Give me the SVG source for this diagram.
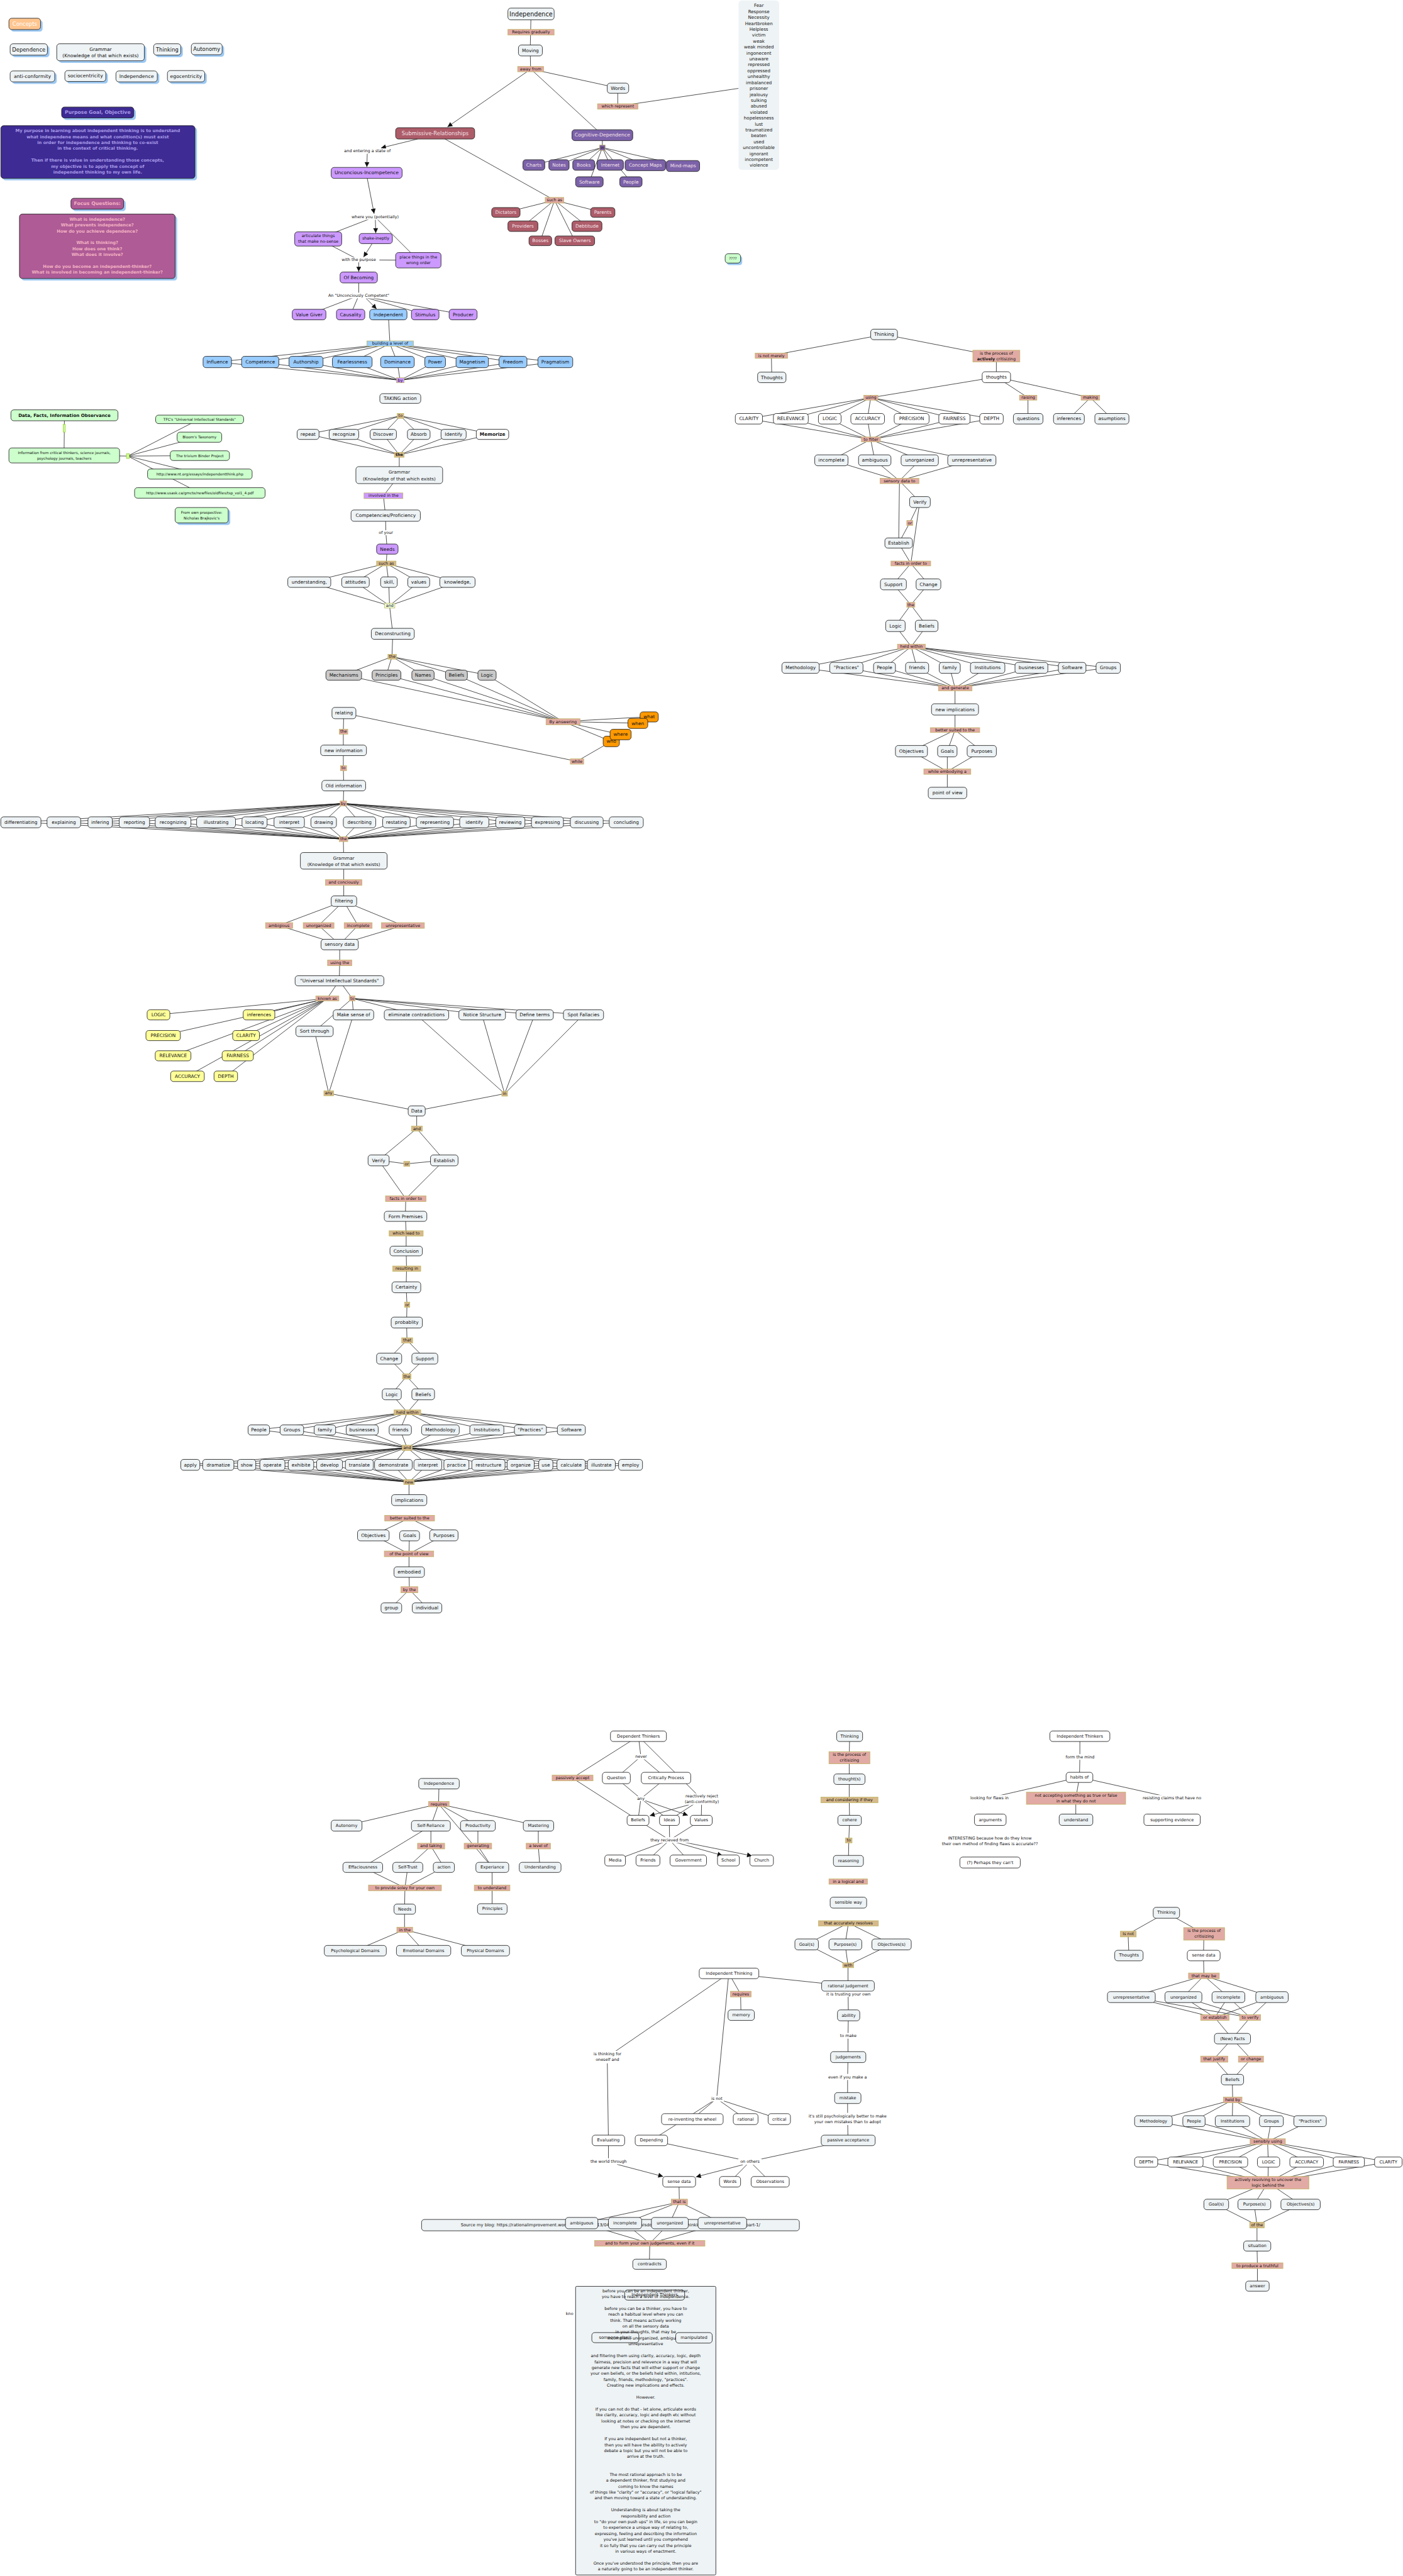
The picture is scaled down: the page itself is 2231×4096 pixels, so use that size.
<svg xmlns="http://www.w3.org/2000/svg" width="2231" height="4096" viewBox="0 0 2231 4096">
<style>
text{font-family:"DejaVu Sans",Verdana,sans-serif;font-size:11.5px;text-anchor:middle;dominant-baseline:central;fill:#111}
text.s{font-size:10px}
text.m{font-size:10.5px}
text.x{font-size:9px}
text.t13{font-size:13px}
text.t12{font-size:12px}
text.big{font-size:15px}
text.bd{font-weight:bold}
text.lt{fill:#F6E4EA}
text.lw{fill:#fff}
text.pp{font-weight:bold;font-size:10.5px;fill:#A89AE8}
text.fq{font-weight:bold;font-size:10.5px;fill:#F3B2C2}
text.tb{font-size:10px}
rect.b{fill:#EEF3F5;stroke:#1b1b1b;stroke-width:1.3;rx:7px;ry:7px}
rect.wt{fill:#fff}
rect.lp{fill:#CC99FF}
rect.bl{fill:#99CCFF}
rect.gy{fill:#C9C9C9}
rect.gr{fill:#CCFFCC}
rect.ye{fill:#FFFF99}
rect.or{fill:#FF9900}
rect.rd{fill:#AD5C69}
rect.pu{fill:#7C62A9}
rect.dp{fill:#3E2B94}
rect.fp{fill:#AE5B96}
rect.co{fill:#FFC58F}
rect.no{fill:none}
rect.sh{fill:#9CC8F2;stroke:none;rx:7px;ry:7px}
rect.k{fill:#E2AAA4;stroke:#BDB55C;stroke-width:1.2}
rect.tn{fill:#D7B98C}
rect.kb{fill:#99CCFF}
rect.kp{fill:#CC99FF}
rect.kg{fill:#EFFFE0}
rect.kpu{fill:#7C62A9}
rect.sg{fill:#CCFF99;stroke:#99CC33;stroke-width:1.2}
rect.pl{fill:#fff;stroke:none}
rect.lst{fill:#EEF3F5;stroke:none;rx:8px;ry:8px}
#connectors path{fill:none;stroke:#1a1a1a;stroke-width:1.2}
</style>
<defs>
<marker id="ah" viewBox="0 0 10 10" refX="10" refY="5" markerWidth="14" markerHeight="12" markerUnits="userSpaceOnUse" orient="auto"><path d="M0,0 L10,5 L0,10 z" fill="#111"/></marker>
</defs>
<rect x="0" y="0" width="2231" height="4096" fill="#fff"/>
<g transform="scale(0.64458)">

<g id="connectors">
<path d="M1310 35 L1308 124 L1309 170 L1486 333 M1309 170 L1524 217 L1524 262 L1822 218"/>
<path d="M1486 333 L1486 364 M1486 364 L1317 407 M1486 364 L1379 407 M1486 364 L1440 407 M1486 364 L1505 407 M1486 364 L1592 407 M1486 364 L1685 409 M1486 364 L1454 448 M1486 364 L1556 448"/>
<path d="M1073 329 L1368 494 M1368 494 L1248 524 M1368 494 L1487 524 M1368 494 L1290 558 M1368 494 L1448 558 M1368 494 L1333 594 M1368 494 L1418 594"/>
<path d="M1300 177 L1104 313" marker-end="url(#ah)"/>
<path d="M1030 343 L940 365" marker-end="url(#ah)"/>
<path d="M906 379 L905 412" marker-end="url(#ah)"/>
<path d="M906 440 L923 527" marker-end="url(#ah)"/>
<path d="M926 542 L927 575" marker-end="url(#ah)"/>
<path d="M918 601 L897 634" marker-end="url(#ah)"/>
<path d="M885 647 L885 670" marker-end="url(#ah)"/>
<path d="M903 736 L929 762" marker-end="url(#ah)"/>
<path d="M925 535 L785 589 M785 589 L885 641 M925 535 L1032 642 M1032 642 L885 641 M885 684 L885 729"/>
<path d="M885 729 L762 776 M885 729 L865 776 M885 729 L1049 776 M885 729 L1142 776 M958 776 L962 848"/>
<path d="M962 848 L536 893 M962 848 L642 893 M962 848 L755 893 M962 848 L869 893 M962 848 L980 893 M962 848 L1073 893 M962 848 L1165 893 M962 848 L1265 893 M962 848 L1370 893"/>
<path d="M987 938 L536 893 M987 938 L642 893 M987 938 L755 893 M987 938 L869 893 M987 938 L980 893 M987 938 L1073 893 M987 938 L1165 893 M987 938 L1265 893 M987 938 L1370 893"/>
<path d="M988 1026 L760 1071 M988 1026 L848 1071 M988 1026 L945 1071 M988 1026 L1033 1071 M988 1026 L1119 1071 M988 1026 L1215 1071"/>
<path d="M985 1122 L760 1071 M985 1122 L848 1071 M985 1122 L945 1071 M985 1122 L1033 1071 M985 1122 L1119 1071 M985 1122 L1215 1071"/>
<path d="M985 1122 L985 1172 L946 1223 L951 1272 L952 1314 L955 1354 L953 1390"/>
<path d="M953 1390 L763 1436 M953 1390 L877 1436 M953 1390 L959 1436 M953 1390 L1033 1436 M953 1390 L1128 1436"/>
<path d="M961 1494 L763 1436 M961 1494 L877 1436 M961 1494 L959 1436 M961 1494 L1033 1436 M961 1494 L1128 1436 M961 1494 L969 1563 L967 1620"/>
<path d="M967 1620 L848 1665 M967 1620 L953 1665 M967 1620 L1043 1665 M967 1620 L1126 1665 M967 1620 L1201 1665"/>
<path d="M1389 1780 L848 1665 M1389 1780 L953 1665 M1389 1780 L1043 1665 M1389 1780 L1126 1665 M1389 1780 L1201 1665 M1389 1780 L1601 1768 M1389 1780 L1573 1784 M1389 1780 L1531 1812 M1389 1780 L1508 1829 M1508 1829 L1423 1878 M848 1759 L1423 1878"/>
<path d="M848 1759 L847 1805 L847 1851 L847 1895 L848 1938 L847 1982"/>
<path d="M847 1982 L51 2028 M847 1982 L157 2028 M847 1982 L247 2028 M847 1982 L331 2028 M847 1982 L427 2028 M847 1982 L533 2028 M847 1982 L628 2028 M847 1982 L713 2028 M847 1982 L798 2028 M847 1982 L887 2028 M847 1982 L978 2028 M847 1982 L1073 2028 M847 1982 L1170 2028 M847 1982 L1259 2028 M847 1982 L1350 2028 M847 1982 L1447 2028 M847 1982 L1545 2028"/>
<path d="M847 2070 L51 2028 M847 2070 L157 2028 M847 2070 L247 2028 M847 2070 L331 2028 M847 2070 L427 2028 M847 2070 L533 2028 M847 2070 L628 2028 M847 2070 L713 2028 M847 2070 L798 2028 M847 2070 L887 2028 M847 2070 L978 2028 M847 2070 L1073 2028 M847 2070 L1170 2028 M847 2070 L1259 2028 M847 2070 L1350 2028 M847 2070 L1447 2028 M847 2070 L1545 2028"/>
<path d="M847 2070 L848 2123 L848 2177 L848 2223 M848 2223 L688 2283 L838 2330 M848 2223 L786 2283 L838 2330 M848 2223 L883 2283 L838 2330 M848 2223 L994 2283 L838 2330 M838 2330 L838 2375 L837 2419 M837 2419 L807 2463 M837 2419 L869 2463"/>
<path d="M807 2463 L391 2503 M807 2463 L639 2503 M807 2463 L402 2554 M807 2463 L607 2554 M807 2463 L427 2604 M807 2463 L586 2604 M807 2463 L462 2655 M807 2463 L557 2655"/>
<path d="M869 2463 L872 2503 M869 2463 L1027 2503 M869 2463 L1189 2503 M869 2463 L1319 2503 M869 2463 L1439 2503 M869 2463 L776 2544"/>
<path d="M776 2544 L811 2697 M872 2503 L811 2697 M811 2697 L1028 2740 M1027 2503 L1245 2698 M1189 2503 L1245 2698 M1319 2503 L1245 2698 M1439 2503 L1245 2698 M1245 2698 L1028 2740"/>
<path d="M1028 2740 L1028 2784 M1028 2784 L934 2862 M1028 2784 L1096 2862 M934 2862 L1003 2871 L1096 2862 M934 2862 L1001 2957 M1096 2862 L1001 2957"/>
<path d="M1001 2957 L1000 3000 L1002 3043 L1002 3086 L1003 3130 L1002 3175 L1004 3218 L1003 3262 L1004 3306 M1004 3306 L960 3351 L1003 3395 M1004 3306 L1048 3351 L1003 3395 M1003 3395 L966 3439 L1005 3484 M1003 3395 L1044 3439 L1005 3484"/>
<path d="M1005 3484 L638 3527 M1005 3484 L720 3527 M1005 3484 L801 3527 M1005 3484 L893 3527 M1005 3484 L987 3527 M1005 3484 L1086 3527 M1005 3484 L1201 3527 M1005 3484 L1308 3527 M1005 3484 L1409 3527"/>
<path d="M1004 3571 L638 3527 M1004 3571 L720 3527 M1004 3571 L801 3527 M1004 3571 L893 3527 M1004 3571 L987 3527 M1004 3571 L1086 3527 M1004 3571 L1201 3527 M1004 3571 L1308 3527 M1004 3571 L1409 3527"/>
<path d="M1004 3571 L469 3613 M1004 3571 L538 3613 M1004 3571 L608 3613 M1004 3571 L672 3613 M1004 3571 L742 3613 M1004 3571 L813 3613 M1004 3571 L886 3613 M1004 3571 L970 3613 M1004 3571 L1055 3613 M1004 3571 L1126 3613 M1004 3571 L1205 3613 M1004 3571 L1284 3613 M1004 3571 L1346 3613 M1004 3571 L1409 3613 M1004 3571 L1483 3613 M1004 3571 L1555 3613"/>
<path d="M1009 3656 L469 3613 M1009 3656 L538 3613 M1009 3656 L608 3613 M1009 3656 L672 3613 M1009 3656 L742 3613 M1009 3656 L813 3613 M1009 3656 L886 3613 M1009 3656 L970 3613 M1009 3656 L1055 3613 M1009 3656 L1126 3613 M1009 3656 L1205 3613 M1009 3656 L1284 3613 M1009 3656 L1346 3613 M1009 3656 L1409 3613 M1009 3656 L1483 3613 M1009 3656 L1555 3613 M1009 3656 L1009 3700"/>
<path d="M1010 3745 L921 3787 M1010 3745 L1095 3787 M921 3787 L1009 3833 M1010 3788 L1009 3833 M1095 3787 L1009 3833 M1009 3833 L1009 3878 L1010 3921 M1010 3921 L965 3966 M1010 3921 L1053 3966"/>
<path d="M1083 4400 L1082 4450 M1082 4450 L855 4503 M1082 4450 L1063 4504 M1082 4450 L1179 4504 M1082 4450 L1328 4504 M1082 4450 L1214 4606 M1063 4504 L895 4606 M1063 4504 L1063 4554 M1063 4554 L1006 4606 M1063 4554 L1095 4606 M1179 4504 L1179 4554 L1214 4606 M1328 4504 L1328 4554 L1332 4606"/>
<path d="M895 4606 L999 4657 M1006 4606 L999 4657 M1095 4606 L999 4657 M999 4657 L998 4709 L998 4760 M998 4760 L876 4812 M998 4760 L1045 4812 M998 4760 L1197 4812 M1214 4606 L1214 4657 L1214 4709"/>
<path d="M1575 4283 L1412 4386 M1575 4283 L1581 4333 M1575 4283 L1731 4438 M1581 4333 L1520 4386 M1581 4333 L1643 4386 M1412 4386 L1574 4490 M1520 4386 L1581 4437 M1643 4386 L1581 4437 M1581 4437 L1574 4490 M1581 4437 L1651 4490 M1731 4438 L1651 4490 M1731 4438 L1730 4490"/>
<path d="M1574 4490 L1652 4539 M1651 4490 L1652 4539 M1730 4490 L1652 4539 M1652 4539 L1517 4589 M1652 4539 L1598 4589 M1652 4539 L1698 4589"/>
<path d="M1700 4452 L1603 4479" marker-end="url(#ah)"/>
<path d="M1592 4442 L1697 4478" marker-end="url(#ah)"/>
<path d="M1668 4545 L1782 4577" marker-end="url(#ah)"/>
<path d="M1680 4543 L1855 4578" marker-end="url(#ah)"/>
<path d="M2096 4283 L2095 4336 L2095 4389 L2095 4440 L2096 4490 L2094 4539 L2093 4590 M2093 4744 L1990 4796 L2092 4848 M2093 4744 L2085 4796 L2092 4848 M2093 4744 L2199 4796 L2092 4848 M2092 4848 L2092 4899"/>
<path d="M1798 4868 L2092 4899 M2092 4899 L2093 4971 L2092 5022 L2092 5074 L2091 5124 L2091 5175 L2091 5227 L2092 5280 M1798 4868 L1827 4919 L1828 4971 M1798 4868 L1498 5074 L1501 5280 L1501 5331"/>
<path d="M1798 4868 L1768 5177 M1768 5177 L1708 5227 M1768 5177 L1839 5227 M1768 5177 L1922 5227 M1768 5177 L1607 5280 M1607 5280 L1850 5332 M2092 5280 L1850 5332 M1850 5332 L1801 5382 M1850 5332 L1900 5382"/>
<path d="M1522 5339 L1636 5369" marker-end="url(#ah)"/>
<path d="M1833 5340 L1717 5370" marker-end="url(#ah)"/>
<path d="M1675 5382 L1676 5432 M1676 5432 L1435 5484 L1603 5534 M1676 5432 L1542 5484 L1603 5534 M1676 5432 L1652 5484 L1603 5534 M1676 5432 L1782 5484 L1603 5534 M1603 5534 L1602 5585"/>
<path d="M2664 4283 L2664 4334 L2663 4384 M2663 4384 L2441 4435 M2663 4384 L2654 4436 M2663 4384 L2891 4435 M2654 4436 L2654 4489"/>
<path d="M2877 4718 L2783 4771 L2785 4824 M2877 4718 L2970 4770 L2969 4824 L2970 4874 M2970 4874 L2791 4926 M2970 4874 L2919 4926 M2970 4874 L3030 4926 M2970 4874 L3138 4926"/>
<path d="M2791 4926 L2997 4977 M2919 4926 L2997 4977 M3030 4926 L2997 4977 M3138 4926 L2997 4977 M2791 4926 L3084 4977 M2919 4926 L3084 4977 M3030 4926 L3084 4977 M3138 4926 L3084 4977 M2997 4977 L3040 5029 M3084 4977 L3040 5029"/>
<path d="M3040 5029 L2995 5079 L3040 5130 M3040 5029 L3086 5079 L3040 5130 M3040 5130 L3041 5180 M3041 5180 L2845 5232 L3127 5283 M3041 5180 L2945 5232 L3127 5283 M3041 5180 L3040 5232 L3127 5283 M3041 5180 L3136 5232 L3127 5283 M3041 5180 L3232 5232 L3127 5283"/>
<path d="M3127 5283 L2827 5333 L3128 5384 M3127 5283 L2924 5333 L3128 5384 M3127 5283 L3035 5333 L3128 5384 M3127 5283 L3129 5333 L3128 5384 M3127 5283 L3223 5333 L3128 5384 M3127 5283 L3327 5333 L3128 5384 M3127 5283 L3425 5333 L3128 5384"/>
<path d="M3128 5384 L3000 5438 L3101 5489 M3128 5384 L3094 5438 L3101 5489 M3128 5384 L3208 5438 L3101 5489 M3101 5489 L3101 5540 L3102 5589 L3102 5639"/>
<path d="M2181 825 L1903 877 L1904 931 M2181 825 L2458 879 L2458 930 M2458 930 L2148 981 M2458 930 L2536 981 M2458 930 L2690 981 M2536 981 L2536 1033 M2690 981 L2637 1033 M2690 981 L2743 1033"/>
<path d="M2148 981 L1847 1033 L2148 1084 M2148 981 L1951 1033 L2148 1084 M2148 981 L2047 1033 L2148 1084 M2148 981 L2140 1033 L2148 1084 M2148 981 L2249 1033 L2148 1084 M2148 981 L2354 1033 L2148 1084 M2148 981 L2446 1033 L2148 1084"/>
<path d="M2148 1084 L2051 1135 L2219 1186 M2148 1084 L2158 1135 L2219 1186 M2148 1084 L2269 1135 L2219 1186 M2148 1084 L2397 1135 L2219 1186 M2219 1186 L2269 1238 M2219 1186 L2217 1340 M2269 1238 L2244 1290 L2217 1340 M2269 1238 L2247 1390 M2217 1340 L2247 1390"/>
<path d="M2247 1390 L2204 1441 L2247 1492 M2247 1390 L2290 1441 L2247 1492 M2247 1492 L2209 1544 L2248 1595 M2247 1492 L2286 1544 L2248 1595"/>
<path d="M2248 1595 L1975 1647 L2356 1697 M2248 1595 L2088 1647 L2356 1697 M2248 1595 L2182 1647 L2356 1697 M2248 1595 L2262 1647 L2356 1697 M2248 1595 L2343 1647 L2356 1697 M2248 1595 L2436 1647 L2356 1697 M2248 1595 L2544 1647 L2356 1697 M2248 1595 L2645 1647 L2356 1697 M2248 1595 L2734 1647 L2356 1697"/>
<path d="M2356 1697 L2356 1750 L2356 1801 M2356 1801 L2248 1853 L2337 1903 M2356 1801 L2337 1853 L2337 1903 M2356 1801 L2422 1853 L2337 1903 M2337 1903 L2337 1956"/>
<path d="M159 1024 L158 1123 L315 1125 M315 1125 L492 1034 M315 1125 L492 1078 M315 1125 L493 1124 M315 1125 L493 1169 M315 1125 L493 1216"/>
</g>

<g id="legend">
<g id="n-concepts"><rect class="sh" x="27" y="50" width="78" height="28"/><rect class="b co" x="22" y="45" width="78" height="28"/><text class="t13 lw" x="61" y="59">Concepts</text></g>
<g id="n-lg-dependence"><rect class="sh" x="30" y="113" width="92" height="28"/><rect class="b" x="25" y="108" width="92" height="28"/><text class="t13" x="71" y="122">Dependence</text></g>
<g id="n-lg-grammar"><rect class="sh" x="145" y="113" width="216" height="42"/><rect class="b" x="140" y="108" width="216" height="42"/><text x="248" y="129"><tspan x="248" dy="-8">Grammar</tspan><tspan x="248" dy="16">(Knowledge of that which exists)</tspan></text></g>
<g id="n-lg-thinking"><rect class="sh" x="384" y="113" width="67" height="28"/><rect class="b" x="379" y="108" width="67" height="28"/><text class="t13" x="412.5" y="122">Thinking</text></g>
<g id="n-lg-autonomy"><rect class="sh" x="477" y="112" width="76" height="28"/><rect class="b" x="472" y="107" width="76" height="28"/><text class="t13" x="510" y="121">Autonomy</text></g>
<g id="n-lg-anticonf"><rect class="sh" x="30" y="180" width="110" height="27"/><rect class="b" x="25" y="175" width="110" height="27"/><text class="t12" x="80" y="188.5">anti-conformity</text></g>
<g id="n-lg-socio"><rect class="sh" x="165" y="179" width="101" height="27"/><rect class="b" x="160" y="174" width="101" height="27"/><text class="t12" x="210.5" y="187.5">sociocentricity</text></g>
<g id="n-lg-independence"><rect class="sh" x="291" y="180" width="102" height="27"/><rect class="b" x="286" y="175" width="102" height="27"/><text class="t12" x="337" y="188.5">Independence</text></g>
<g id="n-lg-ego"><rect class="sh" x="418" y="179" width="92" height="28"/><rect class="b" x="413" y="174" width="92" height="28"/><text class="t12" x="459" y="188">egocentricity</text></g>
<g id="n-purpose-title"><rect class="sh" x="157" y="269" width="178" height="27"/><rect class="b dp" x="152" y="264" width="178" height="27"/><text class="pp" x="241" y="277.5" style="font-size:12px">Purpose Goal, Objective</text></g>
<g id="n-purpose-box"><rect class="sh" x="7" y="315" width="479" height="130"/><rect class="b dp" x="2" y="310" width="479" height="130"/>
<text class="pp" x="241" y="323"><tspan x="241" dy="0">My purpose in learning about independent thinking is to understand</tspan><tspan x="241" dy="14.6">what independene means and what condition(s) must exist</tspan><tspan x="241" dy="14.6">in order for independence and thinking to co-exist</tspan><tspan x="241" dy="14.6">in the context of critical thinking.</tspan><tspan x="241" dy="29.2">Then if there is value in understanding those concepts,</tspan><tspan x="241" dy="14.6">my objective is to apply the concept of</tspan><tspan x="241" dy="14.6">independent thinking to my own life.</tspan></text></g>
<g id="n-focus-title"><rect class="sh" x="180" y="494" width="130" height="27"/><rect class="b fp" x="175" y="489" width="130" height="27"/><text class="fq" x="240" y="502.5" style="font-size:12px">Focus Questions:</text></g>
<g id="n-focus-box"><rect class="sh" x="53" y="533" width="384" height="159"/><rect class="b fp" x="48" y="528" width="384" height="159"/>
<text class="fq" x="240" y="541"><tspan x="240" dy="0">What is independence?</tspan><tspan x="240" dy="14.6">What prevents independence?</tspan><tspan x="240" dy="14.6">How do you achieve dependence?</tspan><tspan x="240" dy="29.2">What is thinking?</tspan><tspan x="240" dy="14.6">How does one think?</tspan><tspan x="240" dy="14.6">What does it involve?</tspan><tspan x="240" dy="29.2">How do you become an independent-thinker?</tspan><tspan x="240" dy="14.6">What is involved in becoming an independent-thinker?</tspan></text></g>
</g>

<g id="top-cluster">
<g id="n-independence"><rect class="b" x="1253" y="20" width="114" height="29"/><text class="big" x="1310" y="34.5">Independence</text></g>
<g id="l-requires-gradually"><rect class="k" x="1253" y="72.5" width="114" height="14"/><text class="s" x="1310" y="79.5">Requires gradually</text></g>
<g id="n-moving"><rect class="b" x="1279" y="111" width="59" height="27"/><text x="1308.5" y="124.5">Moving</text></g>
<g id="l-away-from"><rect class="k" x="1277" y="164" width="64" height="13"/><text class="s" x="1309" y="170.5">away from</text></g>
<g id="n-words"><rect class="b" x="1498" y="205" width="53" height="25"/><text x="1524.5" y="217.5">Words</text></g>
<g id="l-which-represent"><rect class="k" x="1474" y="256" width="100" height="13"/><text class="s" x="1524" y="262.5">which represent</text></g>
<g id="n-feelings-list"><rect class="lst" x="1822" y="1" width="100" height="418"/>
<text x="1872" y="13" style="font-size:11px"><tspan x="1872" dy="0">Fear</tspan><tspan x="1872" dy="14.6">Response</tspan><tspan x="1872" dy="14.6">Necessity</tspan><tspan x="1872" dy="14.6">Heartbroken</tspan><tspan x="1872" dy="14.6">Helpless</tspan><tspan x="1872" dy="14.6">victim</tspan><tspan x="1872" dy="14.6">weak</tspan><tspan x="1872" dy="14.6">weak minded</tspan><tspan x="1872" dy="14.6">ingonecent</tspan><tspan x="1872" dy="14.6">unaware</tspan><tspan x="1872" dy="14.6">repressed</tspan><tspan x="1872" dy="14.6">oppressed</tspan><tspan x="1872" dy="14.6">unhealthy</tspan><tspan x="1872" dy="14.6">imbalanced</tspan><tspan x="1872" dy="14.6">prisoner</tspan><tspan x="1872" dy="14.6">jealousy</tspan><tspan x="1872" dy="14.6">sulking</tspan><tspan x="1872" dy="14.6">abused</tspan><tspan x="1872" dy="14.6">violated</tspan><tspan x="1872" dy="14.6">hopelessness</tspan><tspan x="1872" dy="14.6">lust</tspan><tspan x="1872" dy="14.6">traumatized</tspan><tspan x="1872" dy="14.6">beaten</tspan><tspan x="1872" dy="14.6">used</tspan><tspan x="1872" dy="14.6">uncontrollable</tspan><tspan x="1872" dy="14.6">ignorant</tspan><tspan x="1872" dy="14.6">incompetent</tspan><tspan x="1872" dy="14.6">violence</tspan></text></g>
<g id="n-submissive"><rect class="b rd" x="976" y="315" width="195" height="28"/><text class="t13 lt" x="1073.5" y="329">Submissive-Relationships</text></g>
<g id="n-cognitive"><rect class="b pu" x="1411" y="320" width="150" height="27"/><text class="t12 lt" x="1486" y="333.5">Cognitive-Dependence</text></g>
<g id="l-in"><rect class="k kpu" x="1479" y="358" width="14" height="13"/><text class="s" x="1486" y="364.5">in</text></g>
<g id="n-charts"><rect class="b pu" x="1290" y="394" width="54" height="26"/><text class="lt" x="1317" y="407">Charts</text></g>
<g id="n-notes"><rect class="b pu" x="1354" y="394" width="50" height="26"/><text class="lt" x="1379" y="407">Notes</text></g>
<g id="n-books"><rect class="b pu" x="1413" y="394" width="54" height="26"/><text class="lt" x="1440" y="407">Books</text></g>
<g id="n-internet"><rect class="b pu" x="1473" y="394" width="65" height="26"/><text class="lt" x="1505.5" y="407">Internet</text></g>
<g id="n-conceptmaps"><rect class="b pu" x="1542" y="394" width="100" height="27"/><text class="lt" x="1592" y="407.5">Concept Maps</text></g>
<g id="n-mindmaps"><rect class="b pu" x="1644" y="396" width="82" height="27"/><text class="lt" x="1685" y="409.5">Mind-maps</text></g>
<g id="n-software1"><rect class="b pu" x="1420" y="436" width="68" height="25"/><text class="lt" x="1454" y="448.5">Software</text></g>
<g id="n-people1"><rect class="b pu" x="1529" y="436" width="55" height="25"/><text class="lt" x="1556.5" y="448.5">People</text></g>
<g id="l-such-as"><rect class="k" x="1345" y="487" width="46" height="14"/><text class="s" x="1368" y="494">such as</text></g>
<g id="n-dictators"><rect class="b rd" x="1213" y="512" width="70" height="24"/><text class="lt" x="1248" y="524">Dictators</text></g>
<g id="n-parents"><rect class="b rd" x="1457" y="512" width="60" height="24"/><text class="lt" x="1487" y="524">Parents</text></g>
<g id="n-providers"><rect class="b rd" x="1253" y="545" width="74" height="26"/><text class="lt" x="1290" y="558">Providers</text></g>
<g id="n-debtitude"><rect class="b rd" x="1411" y="545" width="74" height="26"/><text class="lt" x="1448" y="558">Debtitude</text></g>
<g id="n-bosses"><rect class="b rd" x="1305" y="582" width="56" height="24"/><text class="lt" x="1333" y="594">Bosses</text></g>
<g id="n-slaveowners"><rect class="b rd" x="1369" y="582" width="98" height="24"/><text class="lt" x="1418" y="594">Slave Owners</text></g>
<g id="l-entering"><rect class="pl" x="837" y="366" width="139" height="13"/><text class="s" x="906.5" y="372.5">and entering a state of</text></g>
<g id="n-unconcious-incompetence"><rect class="b lp" x="817" y="413" width="175" height="27"/><text class="t12" x="904.5" y="426.5">Unconcious-Incompetence</text></g>
<g id="l-where-you"><rect class="pl" x="855" y="528" width="141" height="14"/><text class="s" x="925.5" y="535">where you (potentially)</text></g>
<g id="n-articulate"><rect class="b lp" x="727" y="572" width="116" height="35"/><text class="s" x="785" y="589.5"><tspan x="785" dy="-7">articulate things</tspan><tspan x="785" dy="14">that make no-sense</tspan></text></g>
<g id="n-shake"><rect class="b lp" x="886" y="576" width="82" height="25"/><text class="s" x="927" y="588.5">shake-ineptly</text></g>
<g id="n-place"><rect class="b lp" x="976" y="623" width="112" height="38"/><text class="s" x="1032" y="642"><tspan x="1032" dy="-7">place things in the</tspan><tspan x="1032" dy="14">wrong order</tspan></text></g>
<g id="l-with-purpose"><rect class="pl" x="834" y="635" width="102" height="12"/><text class="s" x="885" y="641">with the purpose</text></g>
<g id="n-of-becoming"><rect class="b lp" x="839" y="671" width="92" height="27"/><text x="885" y="684.5">Of Becoming</text></g>
<g id="l-unconciously-competent"><rect class="pl" x="793" y="722" width="184" height="14"/><text class="s" x="885" y="729">An "Unconciously Competent"</text></g>
<g id="n-value-giver"><rect class="b lp" x="721" y="763" width="83" height="26"/><text x="762.5" y="776">Value Giver</text></g>
<g id="n-causality"><rect class="b lp" x="830" y="763" width="70" height="26"/><text x="865" y="776">Causality</text></g>
<g id="n-independent"><rect class="b bl" x="912" y="763" width="92" height="26"/><text x="958" y="776">Independent</text></g>
<g id="n-stimulus"><rect class="b lp" x="1015" y="763" width="68" height="26"/><text x="1049" y="776">Stimulus</text></g>
<g id="n-producer"><rect class="b lp" x="1108" y="763" width="69" height="26"/><text x="1142.5" y="776">Producer</text></g>
<g id="l-building"><rect class="k kb" x="905" y="841" width="115" height="13"/><text class="s" x="962.5" y="847.5">building a level of</text></g>
<g id="n-influence"><rect class="b bl" x="501" y="879" width="70" height="28"/><text x="536" y="893">Influence</text></g>
<g id="n-competence"><rect class="b bl" x="596" y="879" width="92" height="28"/><text x="642" y="893">Competence</text></g>
<g id="n-authorship"><rect class="b bl" x="713" y="879" width="84" height="28"/><text x="755" y="893">Authorship</text></g>
<g id="n-fearlessness"><rect class="b bl" x="820" y="879" width="98" height="28"/><text x="869" y="893">Fearlessness</text></g>
<g id="n-dominance"><rect class="b bl" x="939" y="879" width="83" height="28"/><text x="980.5" y="893">Dominance</text></g>
<g id="n-power"><rect class="b bl" x="1048" y="879" width="51" height="28"/><text x="1073.5" y="893">Power</text></g>
<g id="n-magnetism"><rect class="b bl" x="1125" y="879" width="80" height="28"/><text x="1165" y="893">Magnetism</text></g>
<g id="n-freedom"><rect class="b bl" x="1231" y="879" width="69" height="28"/><text x="1265.5" y="893">Freedom</text></g>
<g id="n-pragmatism"><rect class="b bl" x="1327" y="879" width="86" height="28"/><text x="1370" y="893">Pragmatism</text></g>
<g id="l-by1"><rect class="k kp" x="978" y="932" width="19" height="12"/><text class="s" x="987.5" y="938">by</text></g>
<g id="n-taking-action"><rect class="b" x="937" y="971" width="101" height="24"/><text x="987.5" y="983">TAKING action</text></g>
<g id="l-to1"><rect class="k tn" x="980" y="1020" width="16" height="12"/><text class="s" x="988" y="1026">to</text></g>
<g id="n-repeat"><rect class="b" x="733" y="1059" width="54" height="25"/><text x="760" y="1071.5">repeat</text></g>
<g id="n-recognize"><rect class="b" x="812" y="1059" width="73" height="25"/><text x="848.5" y="1071.5">recognize</text></g>
<g id="n-discover"><rect class="b" x="913" y="1059" width="65" height="25"/><text x="945.5" y="1071.5">Discover</text></g>
<g id="n-absorb"><rect class="b" x="1005" y="1059" width="56" height="25"/><text x="1033" y="1071.5">Absorb</text></g>
<g id="n-identify1"><rect class="b" x="1088" y="1059" width="62" height="25"/><text x="1119" y="1071.5">Identify</text></g>
<g id="n-memorize"><rect class="b wt" x="1175" y="1059" width="80" height="25"/><text class="bd" x="1215" y="1071.5">Memorize</text></g>
<g id="l-the1"><rect class="k tn" x="973" y="1116" width="24" height="12"/><text class="s bd" x="985" y="1122">the</text></g>
<g id="n-grammar1"><rect class="b" x="878" y="1151" width="214" height="42"/><text style="font-size:11px" x="985" y="1172"><tspan x="985" dy="-8">Grammar</tspan><tspan x="985" dy="16">(Knowledge of that which exists)</tspan></text></g>
<g id="l-involved"><rect class="k kp" x="898" y="1216" width="96" height="14"/><text class="s" x="946" y="1223">involved in the</text></g>
<g id="n-competencies"><rect class="b" x="866" y="1258" width="171" height="28"/><text x="951.5" y="1272">Competencies/Proficiency</text></g>
<g id="l-of-your"><rect class="pl" x="927" y="1308" width="50" height="12"/><text class="s" x="952" y="1314">of your</text></g>
<g id="n-needs1"><rect class="b lp" x="929" y="1342" width="53" height="25"/><text x="955.5" y="1354.5">Needs</text></g>
<g id="l-such-as2"><rect class="k tn" x="929" y="1384" width="48" height="12"/><text class="s" x="953" y="1390">such as</text></g>
<g id="n-understanding1"><rect class="b" x="710" y="1423" width="106" height="26"/><text x="763" y="1436">understanding,</text></g>
<g id="n-attitudes"><rect class="b" x="843" y="1423" width="68" height="26"/><text x="877" y="1436">attitudes</text></g>
<g id="n-skill"><rect class="b" x="939" y="1423" width="41" height="26"/><text x="959.5" y="1436">skill,</text></g>
<g id="n-values1"><rect class="b" x="1006" y="1423" width="54" height="26"/><text x="1033" y="1436">values</text></g>
<g id="n-knowledge"><rect class="b" x="1085" y="1423" width="87" height="26"/><text x="1128.5" y="1436">knowledge,</text></g>
<g id="l-and1"><rect class="k kg" x="949" y="1488" width="25" height="12"/><text class="s" x="961.5" y="1494">and</text></g>
<g id="n-deconstructing"><rect class="b" x="916" y="1550" width="106" height="27"/><text x="969" y="1563.5">Deconstructing</text></g>
<g id="l-the2"><rect class="k tn" x="957" y="1614" width="21" height="12"/><text class="s" x="967.5" y="1620">the</text></g>
<g id="n-mechanisms"><rect class="b gy" x="804" y="1653" width="88" height="25"/><text x="848" y="1665.5">Mechanisms</text></g>
<g id="n-principles1"><rect class="b gy" x="918" y="1653" width="71" height="25"/><text x="953.5" y="1665.5">Principles</text></g>
<g id="n-names"><rect class="b gy" x="1016" y="1653" width="55" height="25"/><text x="1043.5" y="1665.5">Names</text></g>
<g id="n-beliefs1"><rect class="b gy" x="1099" y="1653" width="54" height="25"/><text x="1126" y="1665.5">Beliefs</text></g>
<g id="n-logic1"><rect class="b gy" x="1179" y="1653" width="45" height="25"/><text x="1201.5" y="1665.5">Logic</text></g>
<g id="l-by-answering"><rect class="k" x="1347" y="1773" width="84" height="15"/><text class="s" x="1389" y="1780.5">By answering</text></g>
<g id="n-what"><rect class="b or" x="1579" y="1756" width="45" height="25"/><text x="1601.5" y="1768.5">what</text></g>
<g id="n-when"><rect class="b or" x="1549" y="1772" width="49" height="25"/><text x="1573.5" y="1784.5">when</text></g>
<g id="n-who"><rect class="b or" x="1488" y="1816" width="40" height="26"/><text x="1508" y="1829">who</text></g>
<g id="n-where"><rect class="b or" x="1505" y="1799" width="52" height="26"/><text x="1531" y="1812">where</text></g>
<g id="l-while"><rect class="k" x="1407" y="1872" width="33" height="13"/><text class="s" x="1423.5" y="1878.5">while</text></g>
<g id="n-relating"><rect class="b" x="819" y="1745" width="59" height="28"/><text x="848.5" y="1759">relating</text></g>
<g id="l-the3"><rect class="k" x="837" y="1799" width="21" height="12"/><text class="s" x="847.5" y="1805">the</text></g>
<g id="n-new-information"><rect class="b" x="791" y="1838" width="113" height="26"/><text x="847.5" y="1851">new information</text></g>
<g id="l-to2"><rect class="k" x="840" y="1889" width="15" height="12"/><text class="s" x="847.5" y="1895">to</text></g>
<g id="n-old-information"><rect class="b" x="794" y="1925" width="108" height="26"/><text x="848" y="1938">Old information</text></g>
<g id="l-by2"><rect class="k" x="839" y="1976" width="16" height="12"/><text class="s" x="847" y="1982">by</text></g>
<g id="n-differentiating"><rect class="b" x="2" y="2015" width="99" height="27"/><text x="51.5" y="2028.5">differentiating</text></g>
<g id="n-explaining"><rect class="b" x="116" y="2015" width="83" height="27"/><text x="157.5" y="2028.5">explaining</text></g>
<g id="n-infering"><rect class="b" x="217" y="2015" width="60" height="27"/><text x="247" y="2028.5">infering</text></g>
<g id="n-reporting"><rect class="b" x="294" y="2015" width="75" height="27"/><text x="331.5" y="2028.5">reporting</text></g>
<g id="n-recognizing"><rect class="b" x="383" y="2015" width="88" height="27"/><text x="427" y="2028.5">recognizing</text></g>
<g id="n-illustrating"><rect class="b" x="485" y="2015" width="96" height="27"/><text x="533" y="2028.5">illustrating</text></g>
<g id="n-locating"><rect class="b" x="597" y="2015" width="62" height="27"/><text x="628" y="2028.5">locating</text></g>
<g id="n-interpret1"><rect class="b" x="676" y="2015" width="75" height="27"/><text x="713.5" y="2028.5">interpret</text></g>
<g id="n-drawing"><rect class="b" x="767" y="2015" width="63" height="27"/><text x="798.5" y="2028.5">drawing</text></g>
<g id="n-describing"><rect class="b" x="847" y="2015" width="80" height="27"/><text x="887" y="2028.5">describing</text></g>
<g id="n-restating"><rect class="b" x="944" y="2015" width="68" height="27"/><text x="978" y="2028.5">restating</text></g>
<g id="n-representing"><rect class="b" x="1027" y="2015" width="92" height="27"/><text x="1073" y="2028.5">representing</text></g>
<g id="n-identify2"><rect class="b" x="1134" y="2015" width="72" height="27"/><text x="1170" y="2028.5">identify</text></g>
<g id="n-reviewing"><rect class="b" x="1223" y="2015" width="72" height="27"/><text x="1259" y="2028.5">reviewing</text></g>
<g id="n-expressing"><rect class="b" x="1311" y="2015" width="79" height="27"/><text x="1350.5" y="2028.5">expressing</text></g>
<g id="n-discussing"><rect class="b" x="1407" y="2015" width="81" height="27"/><text x="1447.5" y="2028.5">discussing</text></g>
<g id="n-concluding"><rect class="b" x="1503" y="2015" width="84" height="27"/><text x="1545" y="2028.5">concluding</text></g>
<g id="l-the4"><rect class="k" x="837" y="2064" width="21" height="12"/><text class="s" x="847.5" y="2070">the</text></g>
<g id="n-grammar2"><rect class="b" x="741" y="2103" width="214" height="41"/><text style="font-size:11px" x="848" y="2123.5"><tspan x="848" dy="-8">Grammar</tspan><tspan x="848" dy="16">(Knowledge of that which exists)</tspan></text></g>
<g id="l-and-conciously"><rect class="k" x="803" y="2170" width="90" height="14"/><text class="s" x="848" y="2177">and conciously</text></g>
<g id="n-filtering"><rect class="b" x="817" y="2210" width="63" height="26"/><text x="848.5" y="2223">filtering</text></g>
<g id="l-ambigious"><rect class="k" x="655" y="2276" width="67" height="14"/><text class="s" x="688.5" y="2283">ambigious</text></g>
<g id="l-unorganized"><rect class="k" x="748" y="2276" width="76" height="14"/><text class="s" x="786" y="2283">unorganized</text></g>
<g id="l-incomplete"><rect class="k" x="849" y="2276" width="69" height="14"/><text class="s" x="883.5" y="2283">incomplete</text></g>
<g id="l-unrepresentative"><rect class="k" x="941" y="2276" width="106" height="14"/><text class="s" x="994" y="2283">unrepresentative</text></g>
<g id="n-sensory-data"><rect class="b" x="792" y="2317" width="92" height="26"/><text x="838" y="2330">sensory data</text></g>
<g id="l-using-the"><rect class="k" x="808" y="2368" width="60" height="14"/><text class="s" x="838" y="2375">using the</text></g>
<g id="n-uis"><rect class="b" x="728" y="2407" width="219" height="25"/><text x="837.5" y="2419.5">"Universal Intellectual Standards"</text></g>
<g id="l-known-as"><rect class="k" x="779" y="2457" width="57" height="12"/><text class="s" x="807.5" y="2463">known as</text></g>
<g id="l-to3"><rect class="k" x="862" y="2457" width="14" height="12"/><text class="s" x="869" y="2463">to</text></g>
<g id="n-y-logic"><rect class="b ye" x="363" y="2491" width="56" height="25"/><text x="391" y="2503.5">LOGIC</text></g>
<g id="n-y-inferences"><rect class="b ye" x="600" y="2491" width="78" height="25"/><text x="639" y="2503.5">inferences</text></g>
<g id="n-y-precision"><rect class="b ye" x="360" y="2542" width="85" height="25"/><text x="402.5" y="2554.5">PRECISION</text></g>
<g id="n-y-clarity"><rect class="b ye" x="574" y="2542" width="66" height="25"/><text x="607" y="2554.5">CLARITY</text></g>
<g id="n-y-relevance"><rect class="b ye" x="383" y="2592" width="88" height="25"/><text x="427" y="2604.5">RELEVANCE</text></g>
<g id="n-y-fairness"><rect class="b ye" x="548" y="2592" width="77" height="25"/><text x="586.5" y="2604.5">FAIRNESS</text></g>
<g id="n-y-accuracy"><rect class="b ye" x="421" y="2642" width="83" height="26"/><text x="462.5" y="2655">ACCURACY</text></g>
<g id="n-y-depth"><rect class="b ye" x="528" y="2642" width="58" height="26"/><text x="557" y="2655">DEPTH</text></g>
<g id="n-make-sense"><rect class="b" x="822" y="2491" width="100" height="25"/><text x="872" y="2503.5">Make sense of</text></g>
<g id="n-eliminate"><rect class="b" x="948" y="2491" width="159" height="25"/><text x="1027.5" y="2503.5">eliminate contradictions</text></g>
<g id="n-notice"><rect class="b" x="1132" y="2491" width="115" height="25"/><text x="1189.5" y="2503.5">Notice Structure</text></g>
<g id="n-define"><rect class="b" x="1273" y="2491" width="92" height="25"/><text x="1319" y="2503.5">Define terms</text></g>
<g id="n-spot"><rect class="b" x="1390" y="2491" width="99" height="25"/><text x="1439.5" y="2503.5">Spot Fallacies</text></g>
<g id="n-sort"><rect class="b" x="730" y="2531" width="92" height="26"/><text x="776" y="2544">Sort through</text></g>
<g id="l-any"><rect class="k tn" x="799" y="2691" width="24" height="12"/><text class="s" x="811" y="2697">any</text></g>
<g id="l-in2"><rect class="k tn" x="1238" y="2692" width="14" height="12"/><text class="s" x="1245" y="2698">in</text></g>
<g id="n-data"><rect class="b" x="1007" y="2728" width="42" height="25"/><text x="1028" y="2740.5">Data</text></g>
<g id="l-and2"><rect class="k tn" x="1015" y="2778" width="27" height="12"/><text class="s" x="1028.5" y="2784">and</text></g>
<g id="n-verify1"><rect class="b" x="908" y="2849" width="52" height="27"/><text x="934" y="2862.5">Verify</text></g>
<g id="n-establish1"><rect class="b" x="1062" y="2849" width="68" height="27"/><text x="1096" y="2862.5">Establish</text></g>
<g id="l-or1"><rect class="k tn" x="996" y="2865" width="15" height="12"/><text class="s" x="1003.5" y="2871">or</text></g>
<g id="l-facts1"><rect class="k" x="951" y="2950" width="100" height="14"/><text class="s" x="1001" y="2957">facts in order to</text></g>
<g id="n-form-premises"><rect class="b" x="948" y="2988" width="105" height="25"/><text x="1000.5" y="3000.5">Form Premises</text></g>
<g id="l-which-lead"><rect class="k tn" x="960" y="3036" width="84" height="13"/><text class="s" x="1002" y="3042.5">which lead to</text></g>
<g id="n-conclusion"><rect class="b" x="962" y="3074" width="80" height="24"/><text x="1002" y="3086">Conclusion</text></g>
<g id="l-resulting"><rect class="k tn" x="969" y="3123" width="69" height="13"/><text class="s" x="1003.5" y="3129.5">resulting in</text></g>
<g id="n-certainty"><rect class="b" x="967" y="3162" width="71" height="27"/><text x="1002.5" y="3175.5">Certainty</text></g>
<g id="l-or2"><rect class="k tn" x="998" y="3212" width="13" height="13"/><text class="s" x="1004.5" y="3218.5">or</text></g>
<g id="n-probablity"><rect class="b" x="965" y="3249" width="77" height="27"/><text x="1003.5" y="3262.5">probablity</text></g>
<g id="l-that"><rect class="k tn" x="991" y="3300" width="27" height="13"/><text class="s" x="1004.5" y="3306.5">that</text></g>
<g id="n-change1"><rect class="b" x="929" y="3338" width="62" height="27"/><text x="960" y="3351.5">Change</text></g>
<g id="n-support1"><rect class="b" x="1016" y="3338" width="64" height="27"/><text x="1048" y="3351.5">Support</text></g>
<g id="l-the5"><rect class="k tn" x="993" y="3389" width="21" height="13"/><text class="s" x="1003.5" y="3395.5">the</text></g>
<g id="n-logic3"><rect class="b" x="943" y="3426" width="47" height="27"/><text x="966.5" y="3439.5">Logic</text></g>
<g id="n-beliefs3"><rect class="b" x="1016" y="3426" width="56" height="27"/><text x="1044" y="3439.5">Beliefs</text></g>
<g id="l-held-within1"><rect class="k tn" x="972" y="3478" width="66" height="12"/><text class="s" x="1005" y="3484">held within</text></g>
<g id="n-people3"><rect class="b" x="612" y="3515" width="53" height="25"/><text x="638.5" y="3527.5">People</text></g>
<g id="n-groups3"><rect class="b" x="691" y="3515" width="58" height="25"/><text x="720" y="3527.5">Groups</text></g>
<g id="n-family3"><rect class="b" x="775" y="3515" width="53" height="25"/><text x="801.5" y="3527.5">family</text></g>
<g id="n-businesses3"><rect class="b" x="854" y="3515" width="79" height="25"/><text x="893.5" y="3527.5">businesses</text></g>
<g id="n-friends3"><rect class="b" x="960" y="3515" width="55" height="25"/><text x="987.5" y="3527.5">friends</text></g>
<g id="n-methodology3"><rect class="b" x="1040" y="3515" width="93" height="25"/><text x="1086.5" y="3527.5">Methodology</text></g>
<g id="n-institutions3"><rect class="b" x="1159" y="3515" width="84" height="25"/><text x="1201" y="3527.5">Institutions</text></g>
<g id="n-practices3"><rect class="b" x="1269" y="3515" width="79" height="25"/><text x="1308.5" y="3527.5">"Practices"</text></g>
<g id="n-software3"><rect class="b" x="1375" y="3515" width="69" height="25"/><text x="1409.5" y="3527.5">Software</text></g>
<g id="l-and3"><rect class="k tn" x="992" y="3565" width="25" height="13"/><text class="s" x="1004.5" y="3571.5">and</text></g>
<g id="n-apply"><rect class="b" x="446" y="3600" width="47" height="27"/><text x="469.5" y="3613.5">apply</text></g>
<g id="n-dramatize"><rect class="b" x="500" y="3600" width="77" height="27"/><text x="538.5" y="3613.5">dramatize</text></g>
<g id="n-show"><rect class="b" x="586" y="3600" width="45" height="27"/><text x="608.5" y="3613.5">show</text></g>
<g id="n-operate"><rect class="b" x="641" y="3600" width="62" height="27"/><text x="672" y="3613.5">operate</text></g>
<g id="n-exhibite"><rect class="b" x="711" y="3600" width="63" height="27"/><text x="742.5" y="3613.5">exhibite</text></g>
<g id="n-develop"><rect class="b" x="781" y="3600" width="64" height="27"/><text x="813" y="3613.5">develop</text></g>
<g id="n-translate"><rect class="b" x="852" y="3600" width="69" height="27"/><text x="886.5" y="3613.5">translate</text></g>
<g id="n-demonstrate"><rect class="b" x="924" y="3600" width="93" height="27"/><text x="970.5" y="3613.5">demonstrate</text></g>
<g id="n-interpret2"><rect class="b" x="1021" y="3600" width="69" height="27"/><text x="1055.5" y="3613.5">interpret</text></g>
<g id="n-practice"><rect class="b" x="1095" y="3600" width="62" height="27"/><text x="1126" y="3613.5">practice</text></g>
<g id="n-restructure"><rect class="b" x="1164" y="3600" width="82" height="27"/><text x="1205" y="3613.5">restructure</text></g>
<g id="n-organize"><rect class="b" x="1251" y="3600" width="67" height="27"/><text x="1284.5" y="3613.5">organize</text></g>
<g id="n-use"><rect class="b" x="1329" y="3600" width="35" height="27"/><text x="1346.5" y="3613.5">use</text></g>
<g id="n-calculate"><rect class="b" x="1374" y="3600" width="70" height="27"/><text x="1409" y="3613.5">calculate</text></g>
<g id="n-illustrate"><rect class="b" x="1449" y="3600" width="69" height="27"/><text x="1483.5" y="3613.5">illustrate</text></g>
<g id="n-employ"><rect class="b" x="1526" y="3600" width="59" height="27"/><text x="1555.5" y="3613.5">employ</text></g>
<g id="l-new"><rect class="k tn" x="996" y="3650" width="26" height="12"/><text class="s" x="1009" y="3656">new</text></g>
<g id="n-implications"><rect class="b" x="966" y="3687" width="87" height="27"/><text x="1009.5" y="3700.5">implications</text></g>
<g id="l-better2"><rect class="k" x="949" y="3738" width="123" height="14"/><text class="s" x="1010.5" y="3745">better suited to the</text></g>
<g id="n-objectives4"><rect class="b" x="882" y="3774" width="78" height="27"/><text x="921" y="3787.5">Objectives</text></g>
<g id="n-goals4"><rect class="b" x="986" y="3776" width="49" height="25"/><text x="1010.5" y="3788.5">Goals</text></g>
<g id="n-purposes4"><rect class="b" x="1060" y="3774" width="70" height="27"/><text x="1095" y="3787.5">Purposes</text></g>
<g id="l-pov"><rect class="k" x="948" y="3826" width="122" height="14"/><text class="s" x="1009" y="3833">of the point of view</text></g>
<g id="n-embodied"><rect class="b" x="972" y="3865" width="75" height="26"/><text x="1009.5" y="3878">embodied</text></g>
<g id="l-by-the"><rect class="k" x="989" y="3914" width="42" height="15"/><text class="s" x="1010" y="3921.5">by the</text></g>
<g id="n-group"><rect class="b" x="940" y="3954" width="51" height="25"/><text x="965.5" y="3966.5">group</text></g>
<g id="n-individual"><rect class="b" x="1017" y="3954" width="73" height="25"/><text x="1053.5" y="3966.5">individual</text></g>
</g>

<g id="data-facts">
<g id="n-data-facts"><rect class="b gr" x="27" y="1011" width="264" height="27"/><text class="bd" style="font-size:11px" x="159" y="1024.5">Data, Facts, Information Observance</text></g>
<g id="l-small1"><rect class="sg" x="156" y="1047" width="5" height="19"/></g>
<g id="n-info"><rect class="b gr" x="22" y="1105" width="273" height="37"/><text class="x" x="158.5" y="1123.5"><tspan x="158.5" dy="-7">Information from critical thinkers, science journals,</tspan><tspan x="158.5" dy="14">psychology journals, teachers</tspan></text></g>
<g id="l-small2"><rect class="sg" x="312" y="1119" width="7" height="12"/></g>
<g id="n-tfc"><rect class="b gr" x="384" y="1024" width="217" height="21"/><text class="x" x="492.5" y="1034.5">TFC's "Universal Intellectual Standards"</text></g>
<g id="n-bloom"><rect class="b gr" x="437" y="1066" width="110" height="25"/><text class="x" x="492" y="1078.5">Bloom's Taxonomy</text></g>
<g id="n-trivium"><rect class="b gr" x="420" y="1112" width="146" height="24"/><text class="x" x="493" y="1124">The trivium Binder Project</text></g>
<g id="n-ntorg"><rect class="b gr" x="364" y="1157" width="258" height="25"/><text class="x" x="493" y="1169.5">http://www.nt.org/essays/independentthink.php</text></g>
<g id="n-usask"><rect class="b gr" x="332" y="1203" width="322" height="26"/><text class="x" x="493" y="1216">http://www.usask.ca/gmcte/newfiles/oldfiles/tsp_vol1_4.pdf</text></g>
<g id="n-fromown"><rect class="sh" x="437" y="1257" width="131" height="38"/><rect class="b gr" x="432" y="1252" width="131" height="38"/><text class="x" x="497.5" y="1271"><tspan x="497.5" dy="-7">From own prospective:</tspan><tspan x="497.5" dy="14">Nicholas Brajkovic's</tspan></text></g>
<g id="n-question-marks"><rect class="sh" x="1793" y="631" width="38" height="23"/><rect class="b gr" x="1789" y="626" width="38" height="23"/><text class="x" x="1808" y="637.5">????</text></g>
</g>

<g id="thinking-upper">
<g id="n-thinking2"><rect class="b" x="2148" y="812" width="66" height="26"/><text x="2181" y="825">Thinking</text></g>
<g id="l-not-merely"><rect class="k" x="1863" y="871" width="80" height="13"/><text class="s" x="1903" y="877.5">is not merely</text></g>
<g id="n-thoughts2"><rect class="b" x="1869" y="918" width="70" height="26"/><text x="1904" y="931">Thoughts</text></g>
<g id="l-actively"><rect class="k" x="2400" y="864" width="116" height="29"/><text class="s" x="2458" y="878.5"><tspan x="2458" dy="-7">is the process of</tspan><tspan x="2458" dy="14"><tspan font-weight="bold">actively</tspan> critisizing</tspan></text></g>
<g id="n-thoughts"><rect class="b wt" x="2423" y="917" width="70" height="27"/><text x="2458" y="930.5">thoughts</text></g>
<g id="l-using"><rect class="k" x="2131" y="975" width="35" height="12"/><text class="s" x="2148.5" y="981">using</text></g>
<g id="l-raising"><rect class="k" x="2515" y="975" width="43" height="12"/><text class="s" x="2536.5" y="981">raising</text></g>
<g id="l-making"><rect class="k" x="2667" y="975" width="46" height="12"/><text class="s" x="2690" y="981">making</text></g>
<g id="n-u-clarity"><rect class="b wt" x="1814" y="1020" width="67" height="26"/><text x="1847.5" y="1033">CLARITY</text></g>
<g id="n-u-relevance"><rect class="b wt" x="1908" y="1020" width="86" height="26"/><text x="1951" y="1033">RELEVANCE</text></g>
<g id="n-u-logic"><rect class="b wt" x="2019" y="1020" width="56" height="26"/><text x="2047" y="1033">LOGIC</text></g>
<g id="n-u-accuracy"><rect class="b wt" x="2099" y="1020" width="83" height="26"/><text x="2140.5" y="1033">ACCURACY</text></g>
<g id="n-u-precision"><rect class="b wt" x="2206" y="1020" width="86" height="26"/><text x="2249" y="1033">PRECISION</text></g>
<g id="n-u-fairness"><rect class="b wt" x="2316" y="1020" width="77" height="26"/><text x="2354.5" y="1033">FAIRNESS</text></g>
<g id="n-u-depth"><rect class="b wt" x="2417" y="1020" width="58" height="26"/><text x="2446" y="1033">DEPTH</text></g>
<g id="n-questions"><rect class="b" x="2500" y="1020" width="73" height="26"/><text x="2536.5" y="1033">questions</text></g>
<g id="n-inferences2"><rect class="b" x="2599" y="1020" width="76" height="26"/><text x="2637" y="1033">inferences</text></g>
<g id="n-asumptions"><rect class="b" x="2701" y="1020" width="84" height="26"/><text x="2743" y="1033">asumptions</text></g>
<g id="l-to-filter"><rect class="k" x="2125" y="1078" width="47" height="12"/><text class="s" x="2148.5" y="1084">to filter</text></g>
<g id="n-incomplete1"><rect class="b" x="2010" y="1122" width="82" height="27"/><text x="2051" y="1135.5">incomplete</text></g>
<g id="n-ambiguous1"><rect class="b" x="2118" y="1122" width="80" height="27"/><text x="2158" y="1135.5">ambiguous</text></g>
<g id="n-unorganized1"><rect class="b" x="2223" y="1122" width="92" height="27"/><text x="2269" y="1135.5">unorganized</text></g>
<g id="n-unrepresentative1"><rect class="b" x="2338" y="1122" width="119" height="27"/><text x="2397.5" y="1135.5">unrepresentative</text></g>
<g id="l-sensory-to"><rect class="k" x="2171" y="1180" width="96" height="13"/><text class="s" x="2219" y="1186.5">sensory data to</text></g>
<g id="n-verify2"><rect class="b" x="2244" y="1225" width="51" height="27"/><text x="2269.5" y="1238.5">Verify</text></g>
<g id="l-or3"><rect class="k" x="2237" y="1284" width="15" height="12"/><text class="s" x="2244.5" y="1290">or</text></g>
<g id="n-establish2"><rect class="b" x="2183" y="1327" width="68" height="25"/><text x="2217" y="1339.5">Establish</text></g>
<g id="l-facts2"><rect class="k" x="2198" y="1384" width="98" height="12"/><text class="s" x="2247" y="1390">facts in order to</text></g>
<g id="n-support2"><rect class="b" x="2172" y="1428" width="64" height="27"/><text x="2204" y="1441.5">Support</text></g>
<g id="n-change2"><rect class="b" x="2260" y="1428" width="61" height="27"/><text x="2290.5" y="1441.5">Change</text></g>
<g id="l-the6"><rect class="k" x="2237" y="1486" width="20" height="12"/><text class="s" x="2247" y="1492">the</text></g>
<g id="n-logic2"><rect class="b" x="2185" y="1530" width="48" height="28"/><text x="2209" y="1544">Logic</text></g>
<g id="n-beliefs2"><rect class="b" x="2258" y="1530" width="56" height="28"/><text x="2286" y="1544">Beliefs</text></g>
<g id="l-held-within2"><rect class="k" x="2214" y="1589" width="69" height="12"/><text class="s" x="2248.5" y="1595">held within</text></g>
<g id="n-methodology2"><rect class="b" x="1929" y="1634" width="92" height="27"/><text x="1975" y="1647.5">Methodology</text></g>
<g id="n-practices2"><rect class="b" x="2047" y="1634" width="82" height="27"/><text x="2088" y="1647.5">"Practices"</text></g>
<g id="n-people2"><rect class="b" x="2155" y="1634" width="54" height="27"/><text x="2182" y="1647.5">People</text></g>
<g id="n-friends2"><rect class="b" x="2234" y="1634" width="57" height="27"/><text x="2262.5" y="1647.5">friends</text></g>
<g id="n-family2"><rect class="b" x="2317" y="1634" width="52" height="27"/><text x="2343" y="1647.5">family</text></g>
<g id="n-institutions2"><rect class="b" x="2394" y="1634" width="85" height="27"/><text x="2436.5" y="1647.5">Institutions</text></g>
<g id="n-businesses2"><rect class="b" x="2504" y="1634" width="81" height="27"/><text x="2544.5" y="1647.5">businesses</text></g>
<g id="n-software2"><rect class="b" x="2611" y="1634" width="68" height="27"/><text x="2645" y="1647.5">Software</text></g>
<g id="n-groups2"><rect class="b" x="2704" y="1634" width="60" height="27"/><text x="2734" y="1647.5">Groups</text></g>
<g id="l-and-generate"><rect class="k" x="2315" y="1691" width="83" height="13"/><text class="s" x="2356.5" y="1697.5">and generate</text></g>
<g id="n-new-implications"><rect class="b" x="2298" y="1736" width="116" height="28"/><text x="2356" y="1750">new implications</text></g>
<g id="l-better1"><rect class="k" x="2295" y="1795" width="122" height="12"/><text class="s" x="2356" y="1801">better suited to the</text></g>
<g id="n-objectives3"><rect class="b" x="2209" y="1839" width="79" height="28"/><text x="2248.5" y="1853">Objectives</text></g>
<g id="n-goals3"><rect class="b" x="2313" y="1839" width="48" height="28"/><text x="2337" y="1853">Goals</text></g>
<g id="n-purposes3"><rect class="b" x="2386" y="1839" width="72" height="28"/><text x="2422" y="1853">Purposes</text></g>
<g id="l-embodying"><rect class="k" x="2279" y="1897" width="116" height="13"/><text class="s" x="2337" y="1903.5">while embodying a</text></g>
<g id="n-pov"><rect class="b" x="2290" y="1942" width="95" height="28"/><text x="2337.5" y="1956">point of view</text></g>
</g>

<g id="independence-cluster">
<g id="n-independence2"><rect class="b" x="1033" y="4387" width="100" height="26"/><text class="m" x="1083" y="4400">Independence</text></g>
<g id="l-requires2"><rect class="k" x="1057" y="4444" width="51" height="13"/><text class="s" x="1082.5" y="4450.5">requires</text></g>
<g id="n-autonomy2"><rect class="b" x="817" y="4490" width="76" height="27"/><text class="m" x="855" y="4503.5">Autonomy</text></g>
<g id="n-self-reliance"><rect class="b" x="1015" y="4491" width="96" height="26"/><text class="m" x="1063" y="4504">Self-Reliance</text></g>
<g id="n-productivity"><rect class="b" x="1136" y="4491" width="86" height="26"/><text class="m" x="1179" y="4504">Productivity</text></g>
<g id="n-mastering"><rect class="b" x="1291" y="4491" width="75" height="26"/><text class="m" x="1328.5" y="4504">Mastering</text></g>
<g id="l-and-taking"><rect class="k" x="1030" y="4547" width="67" height="14"/><text class="s" x="1063.5" y="4554">and taking</text></g>
<g id="l-generating"><rect class="k" x="1145" y="4547" width="68" height="14"/><text class="s" x="1179" y="4554">generating</text></g>
<g id="l-a-level-of"><rect class="k" x="1298" y="4547" width="60" height="14"/><text class="s" x="1328" y="4554">a level of</text></g>
<g id="n-effaciousness"><rect class="b" x="846" y="4594" width="98" height="25"/><text class="m" x="895" y="4606.5">Effaciousness</text></g>
<g id="n-self-trust"><rect class="b" x="969" y="4594" width="74" height="25"/><text class="m" x="1006" y="4606.5">Self-Trust</text></g>
<g id="n-action"><rect class="b" x="1069" y="4594" width="52" height="25"/><text class="m" x="1095" y="4606.5">action</text></g>
<g id="n-experiance"><rect class="b" x="1174" y="4594" width="81" height="25"/><text class="m" x="1214.5" y="4606.5">Experiance</text></g>
<g id="n-understanding2"><rect class="b" x="1281" y="4594" width="103" height="25"/><text class="m" x="1332.5" y="4606.5">Understanding</text></g>
<g id="l-provide"><rect class="k" x="909" y="4650" width="180" height="14"/><text class="s" x="999" y="4657">to provide soley for your own</text></g>
<g id="l-to-understand"><rect class="k" x="1170" y="4650" width="88" height="14"/><text class="s" x="1214" y="4657">to understand</text></g>
<g id="n-needs2"><rect class="b" x="972" y="4697" width="53" height="25"/><text class="m" x="998.5" y="4709.5">Needs</text></g>
<g id="n-principles2"><rect class="b" x="1178" y="4696" width="73" height="26"/><text class="m" x="1214.5" y="4709">Principles</text></g>
<g id="l-in-the"><rect class="k" x="979" y="4754" width="39" height="13"/><text class="s" x="998.5" y="4760.5">in the</text></g>
<g id="n-psych"><rect class="b" x="800" y="4799" width="153" height="26"/><text class="m" x="876.5" y="4812">Psychological Domains</text></g>
<g id="n-emot"><rect class="b" x="978" y="4799" width="134" height="26"/><text class="m" x="1045" y="4812">Emotional Domains</text></g>
<g id="n-phys"><rect class="b" x="1138" y="4799" width="119" height="26"/><text class="m" x="1197.5" y="4812">Physical Domains</text></g>
</g>

<g id="dependent-cluster">
<g id="n-dependent-thinkers"><rect class="b wt" x="1506" y="4270" width="138" height="26"/><text class="m" x="1575" y="4283">Dependent Thinkers</text></g>
<g id="l-never"><rect class="pl" x="1563" y="4327" width="37" height="13"/><text class="s" x="1581.5" y="4333.5">never</text></g>
<g id="l-passively"><rect class="k" x="1362" y="4379" width="101" height="14"/><text class="s" x="1412.5" y="4386">passively accept</text></g>
<g id="n-question"><rect class="b wt" x="1486" y="4372" width="69" height="28"/><text class="m" x="1520.5" y="4386">Question</text></g>
<g id="n-critically"><rect class="b wt" x="1582" y="4372" width="122" height="28"/><text class="m" x="1643" y="4386">Critically Process</text></g>
<g id="l-any2"><rect class="pl" x="1570" y="4431" width="22" height="12"/><text class="s" x="1581" y="4437">any</text></g>
<g id="l-reactively"><rect class="pl" x="1676" y="4424" width="111" height="28"/><text class="s" x="1731.5" y="4438"><tspan x="1731.5" dy="-7">reactively reject</tspan><tspan x="1731.5" dy="14">(anti-conformity)</tspan></text></g>
<g id="n-beliefs-d"><rect class="b wt" x="1547" y="4478" width="54" height="25"/><text class="m" x="1574" y="4490.5">Beliefs</text></g>
<g id="n-ideas"><rect class="b wt" x="1627" y="4478" width="49" height="25"/><text class="m" x="1651.5" y="4490.5">Ideas</text></g>
<g id="n-values-d"><rect class="b wt" x="1703" y="4478" width="54" height="25"/><text class="m" x="1730" y="4490.5">Values</text></g>
<g id="l-recieved"><rect class="pl" x="1592" y="4532" width="120" height="14"/><text class="s" x="1652" y="4539">they recieved from</text></g>
<g id="n-media"><rect class="b wt" x="1492" y="4576" width="51" height="27"/><text class="m" x="1517.5" y="4589.5">Media</text></g>
<g id="n-friends-d"><rect class="b wt" x="1569" y="4576" width="59" height="27"/><text class="m" x="1598.5" y="4589.5">Friends</text></g>
<g id="n-government"><rect class="b wt" x="1653" y="4576" width="90" height="27"/><text class="m" x="1698" y="4589.5">Government</text></g>
<g id="n-school"><rect class="b wt" x="1770" y="4576" width="54" height="27"/><text class="m" x="1797" y="4589.5">School</text></g>
<g id="n-church"><rect class="b wt" x="1850" y="4576" width="58" height="27"/><text class="m" x="1879" y="4589.5">Church</text></g>
</g>

<g id="thinking-middle">
<g id="n-thinking3"><rect class="b" x="2064" y="4270" width="64" height="26"/><text class="m" x="2096" y="4283">Thinking</text></g>
<g id="l-process2"><rect class="k" x="2045" y="4321" width="101" height="30"/><text class="s" x="2095.5" y="4336"><tspan x="2095.5" dy="-7">is the process of</tspan><tspan x="2095.5" dy="14">critisizing</tspan></text></g>
<g id="n-thoughts4"><rect class="b" x="2057" y="4376" width="77" height="26"/><text class="m" x="2095.5" y="4389">thought(s)</text></g>
<g id="l-considering"><rect class="k tn" x="2025" y="4433" width="141" height="14"/><text class="s" x="2095.5" y="4440">and considering if they</text></g>
<g id="n-cohere"><rect class="b" x="2067" y="4478" width="58" height="25"/><text class="m" x="2096" y="4490.5">cohere</text></g>
<g id="l-to4"><rect class="k tn" x="2086" y="4534" width="16" height="12"/><text class="s" x="2094" y="4540">to</text></g>
<g id="n-reasoning"><rect class="b" x="2056" y="4577" width="74" height="27"/><text class="m" x="2093" y="4590.5">reasoning</text></g>
<g id="l-logical"><rect class="k" x="2045" y="4635" width="95" height="13"/><text class="s" x="2092.5" y="4641.5">in a logical and</text></g>
<g id="n-sensible"><rect class="b" x="2048" y="4680" width="90" height="27"/><text class="m" x="2093" y="4693.5">sensible way</text></g>
<g id="l-accurately"><rect class="k tn" x="2019" y="4738" width="148" height="13"/><text class="s" x="2093" y="4744.5">that accurately resolves</text></g>
<g id="n-goal1"><rect class="b" x="1961" y="4783" width="58" height="27"/><text class="m" x="1990" y="4796.5">Goal(s)</text></g>
<g id="n-purpose1"><rect class="b" x="2045" y="4783" width="81" height="27"/><text class="m" x="2085.5" y="4796.5">Purpose(s)</text></g>
<g id="n-objectives1"><rect class="b" x="2151" y="4783" width="97" height="27"/><text class="m" x="2199.5" y="4796.5">Objectives(s)</text></g>
<g id="l-with"><rect class="k tn" x="2079" y="4842" width="27" height="12"/><text class="s" x="2092.5" y="4848">with</text></g>
<g id="n-rational-judgement"><rect class="b" x="2027" y="4886" width="130" height="26"/><text class="m" x="2092" y="4899">rational judgement</text></g>
<g id="l-trusting"><rect class="pl" x="2027" y="4913" width="132" height="13"/><text class="s" x="2093" y="4919.5">it is trusting your own</text></g>
<g id="n-abillity"><rect class="b" x="2066" y="4958" width="55" height="27"/><text class="m" x="2093.5" y="4971.5">abillity</text></g>
<g id="l-to-make"><rect class="pl" x="2068" y="5015" width="49" height="14"/><text class="s" x="2092.5" y="5022">to make</text></g>
<g id="n-judgements"><rect class="b" x="2049" y="5061" width="87" height="27"/><text class="m" x="2092.5" y="5074.5">judgements</text></g>
<g id="l-even-if"><rect class="pl" x="2033" y="5116" width="116" height="15"/><text class="s" x="2091" y="5123.5">even if you make a</text></g>
<g id="n-mistake"><rect class="b" x="2059" y="5162" width="65" height="27"/><text class="m" x="2091.5" y="5175.5">mistake</text></g>
<g id="l-still"><rect class="pl" x="1976" y="5212" width="231" height="30"/><text class="s" x="2091" y="5227"><tspan x="2091" dy="-7">it's still psychologically better to make</tspan><tspan x="2091" dy="14">your own mistakes than to adopt</tspan></text></g>
<g id="n-passive-acceptance"><rect class="b" x="2026" y="5267" width="133" height="26"/><text class="m" x="2092.5" y="5280">passive acceptance</text></g>
<g id="n-independent-thinking"><rect class="b wt" x="1725" y="4855" width="147" height="26"/><text class="m" x="1798.5" y="4868">Independent Thinking</text></g>
<g id="l-requires3"><rect class="k" x="1802" y="4912" width="51" height="14"/><text class="s" x="1827.5" y="4919">requires</text></g>
<g id="n-memory"><rect class="b" x="1796" y="4958" width="65" height="26"/><text class="m" x="1828.5" y="4971">memory</text></g>
<g id="l-is-thinking"><rect class="pl" x="1456" y="5059" width="85" height="31"/><text class="s" x="1498.5" y="5074.5"><tspan x="1498.5" dy="-7">is thinking for</tspan><tspan x="1498.5" dy="14">oneself and</tspan></text></g>
<g id="l-is-not"><rect class="pl" x="1751" y="5170" width="35" height="14"/><text class="s" x="1768.5" y="5177">is not</text></g>
<g id="n-reinventing"><rect class="b wt" x="1632" y="5214" width="152" height="27"/><text class="m" x="1708" y="5227.5">re-inventing the wheel</text></g>
<g id="n-rational"><rect class="b wt" x="1809" y="5214" width="61" height="27"/><text class="m" x="1839.5" y="5227.5">rational</text></g>
<g id="n-critical"><rect class="b wt" x="1895" y="5214" width="55" height="27"/><text class="m" x="1922.5" y="5227.5">critical</text></g>
<g id="n-evaluating"><rect class="b wt" x="1461" y="5267" width="80" height="26"/><text class="m" x="1501" y="5280">Evaluating</text></g>
<g id="n-depending"><rect class="b wt" x="1567" y="5267" width="80" height="26"/><text class="m" x="1607" y="5280">Depending</text></g>
<g id="l-world-through"><rect class="pl" x="1447" y="5324" width="109" height="15"/><text class="s" x="1501.5" y="5331.5">the world through</text></g>
<g id="l-on-others"><rect class="pl" x="1821" y="5325" width="58" height="15"/><text class="s" x="1850" y="5332.5">on others</text></g>
<g id="n-sense-data2"><rect class="b wt" x="1635" y="5369" width="81" height="26"/><text class="m" x="1675.5" y="5382">sense data</text></g>
<g id="n-words2"><rect class="b wt" x="1775" y="5369" width="52" height="26"/><text class="m" x="1801" y="5382">Words</text></g>
<g id="n-observations"><rect class="b wt" x="1853" y="5369" width="94" height="26"/><text class="m" x="1900" y="5382">Observations</text></g>
<g id="l-that-is"><rect class="k" x="1656" y="5425" width="40" height="14"/><text class="s" x="1676" y="5432">that is</text></g>
<g id="n-source"><rect class="b" x="1040" y="5475" width="932" height="28"/><text class="m" x="1506" y="5489">Source my blog: https://rationalimprovement.wordpress.com/2013/04/05/advanced-wisdom-next-level-of-thinking-and-internalization-part-1/</text></g>
<g id="n-ambiguous2"><rect class="b" x="1395" y="5470" width="80" height="28"/><text class="m" x="1435" y="5484">ambiguous</text></g>
<g id="n-incomplete2"><rect class="b" x="1501" y="5470" width="82" height="28"/><text class="m" x="1542" y="5484">incomplete</text></g>
<g id="n-unorganized2"><rect class="b" x="1607" y="5470" width="91" height="28"/><text class="m" x="1652.5" y="5484">unorganized</text></g>
<g id="n-unrepresentative2"><rect class="b" x="1722" y="5470" width="120" height="28"/><text class="m" x="1782" y="5484">unrepresentative</text></g>
<g id="l-and-to-form"><rect class="k" x="1467" y="5527" width="272" height="14"/><text class="s" x="1603" y="5534">and to form your own judgements, even if it</text></g>
<g id="n-contradicts"><rect class="b" x="1561" y="5573" width="83" height="25"/><text class="m" x="1602.5" y="5585.5">contradicts</text></g>
<text class="s" x="1396" y="5707" style="text-anchor:start">kno</text>
<g id="n-textbox"><rect class="b" style="rx:3px;ry:3px" x="1420" y="5640" width="346" height="712"/>
<text class="tb" x="1593" y="5651"><tspan x="1593" dy="0">before you can be an independent thinker,</tspan><tspan x="1593" dy="14.62">you have to reach a level of independence.</tspan><tspan x="1593" dy="29.24">before you can be a thinker, you have to</tspan><tspan x="1593" dy="14.62">reach a habitual level where you can</tspan><tspan x="1593" dy="14.62">think. That means actively working</tspan><tspan x="1593" dy="14.62">on all the sensory data</tspan><tspan x="1593" dy="14.62">in your thoughts, that may be</tspan><tspan x="1593" dy="14.62">incomplete, unorganized, ambiguous,</tspan><tspan x="1593" dy="14.62">unrepresentative</tspan><tspan x="1593" dy="29.24">and filtering them using clarity, accuracy, logic, depth</tspan><tspan x="1593" dy="14.62">fairness, precision and relevence in a way that will</tspan><tspan x="1593" dy="14.62">generate new facts that will either support or change</tspan><tspan x="1593" dy="14.62">your own beliefs, or the beliefs held within, intitutions,</tspan><tspan x="1593" dy="14.62">family, friends, methodology, "practices".</tspan><tspan x="1593" dy="14.62">Creating new implications and effects.</tspan><tspan x="1593" dy="29.24">However.</tspan><tspan x="1593" dy="29.24">If you can not do that - let alone, articulate words</tspan><tspan x="1593" dy="14.62">like clarity, accuracy, logic and depth etc without</tspan><tspan x="1593" dy="14.62">looking at notes or checking on the internet</tspan><tspan x="1593" dy="14.62">then you are dependent.</tspan><tspan x="1593" dy="29.24">If you are independent but not a thinker,</tspan><tspan x="1593" dy="14.62">then you will have the abillity to actively</tspan><tspan x="1593" dy="14.62">debate a topic but you will not be able to</tspan><tspan x="1593" dy="14.62">arrive at the truth.</tspan><tspan x="1593" dy="43.86">The most rational approach is to be</tspan><tspan x="1593" dy="14.62">a dependent thinker, first studying and</tspan><tspan x="1593" dy="14.62">coming to know the names</tspan><tspan x="1593" dy="14.62">of things like "clarity" or "accuracy", or "logical fallacy"</tspan><tspan x="1593" dy="14.62">and then moving toward a state of understanding.</tspan><tspan x="1593" dy="29.24">Understanding is about taking the</tspan><tspan x="1593" dy="14.62">responsibility and action</tspan><tspan x="1593" dy="14.62">to "do your own push ups" in life, so you can begin</tspan><tspan x="1593" dy="14.62">to experience a unique way of relating to,</tspan><tspan x="1593" dy="14.62">expressing, feeling and describing the information</tspan><tspan x="1593" dy="14.62">you've just learned until you comprehend</tspan><tspan x="1593" dy="14.62">it so fully that you can carry out the principle</tspan><tspan x="1593" dy="14.62">in various ways of enactment.</tspan><tspan x="1593" dy="29.24">Once you've understood the principle, then you are</tspan><tspan x="1593" dy="14.62">a naturally going to be an independent thinker.</tspan></text></g>
<g id="n-independent-thinkers-overlay"><rect class="b no" x="1541" y="5649" width="148" height="25"/><text class="m" x="1615" y="5661.5">Independent Thinkers</text></g>
<g id="n-someone"><rect class="b no" x="1460" y="5754" width="116" height="25"/><text class="m" x="1518" y="5766.5">someone else's</text></g>
<g id="n-manipulated"><rect class="b" x="1667" y="5754" width="90" height="26"/><text class="m" x="1712" y="5767">manipulated</text></g>
</g>

<g id="independent-thinkers-cluster">
<g id="n-independent-thinkers"><rect class="b wt" x="2590" y="4270" width="148" height="26"/><text class="m" x="2664" y="4283">Independent Thinkers</text></g>
<g id="l-form-the-mind"><rect class="pl" x="2619" y="4327" width="91" height="14"/><text class="s" x="2664.5" y="4334">form the mind</text></g>
<g id="n-habits"><rect class="b wt" x="2630" y="4372" width="66" height="25"/><text class="m" x="2663" y="4384.5">habits of</text></g>
<g id="l-looking"><rect class="pl" x="2382" y="4428" width="118" height="15"/><text class="s" x="2441" y="4435.5">looking for flaws in</text></g>
<g id="l-not-accepting"><rect class="k" x="2532" y="4421" width="245" height="30"/><text class="s" x="2654.5" y="4436"><tspan x="2654.5" dy="-7">not accepting something as true or false</tspan><tspan x="2654.5" dy="14">in what they do not</tspan></text></g>
<g id="l-resisting"><rect class="pl" x="2803" y="4428" width="176" height="15"/><text class="s" x="2891" y="4435.5">resisting claims that have no</text></g>
<g id="n-arguments"><rect class="b wt" x="2404" y="4475" width="78" height="28"/><text class="m" x="2443" y="4489">arguments</text></g>
<g id="n-understand"><rect class="b" x="2613" y="4475" width="83" height="28"/><text class="m" x="2654.5" y="4489">understand</text></g>
<g id="n-supporting"><rect class="b wt" x="2822" y="4475" width="139" height="28"/><text class="m" x="2891.5" y="4489">supporting evidence</text></g>
<g id="t-interesting"><text class="s" x="2442" y="4541.5"><tspan x="2442" dy="-7">INTERESTING because how do they know</tspan><tspan x="2442" dy="14">their own method of finding flaws is accurate??</tspan></text></g>
<g id="n-perhaps"><rect class="b wt" x="2368" y="4581" width="149" height="27"/><text class="m" x="2442.5" y="4594.5">(?) Perhaps they can't</text></g>
</g>

<g id="thinking-right">
<g id="n-thinking4"><rect class="b" x="2845" y="4705" width="65" height="27"/><text class="m" x="2877.5" y="4718.5">Thinking</text></g>
<g id="l-is-not2"><rect class="k tn" x="2764" y="4764" width="39" height="14"/><text class="s" x="2783.5" y="4771">Is not</text></g>
<g id="l-process3"><rect class="k" x="2920" y="4755" width="101" height="31"/><text class="s" x="2970.5" y="4770.5"><tspan x="2970.5" dy="-7">is the process of</tspan><tspan x="2970.5" dy="14">critisizing</tspan></text></g>
<g id="n-thoughts3"><rect class="b" x="2750" y="4811" width="70" height="26"/><text class="m" x="2785" y="4824">Thoughts</text></g>
<g id="n-sense-data3"><rect class="b wt" x="2929" y="4811" width="81" height="26"/><text class="m" x="2969.5" y="4824">sense data</text></g>
<g id="l-may-be"><rect class="k" x="2932" y="4867" width="76" height="14"/><text class="s" x="2970" y="4874">that may be</text></g>
<g id="n-unrepresentative3"><rect class="b" x="2732" y="4913" width="118" height="27"/><text class="m" x="2791" y="4926.5">unrepresentative</text></g>
<g id="n-unorganized3"><rect class="b" x="2874" y="4913" width="91" height="27"/><text class="m" x="2919.5" y="4926.5">unorganized</text></g>
<g id="n-incomplete3"><rect class="b" x="2990" y="4913" width="81" height="27"/><text class="m" x="3030.5" y="4926.5">incomplete</text></g>
<g id="n-ambiguous3"><rect class="b" x="3098" y="4913" width="80" height="27"/><text class="m" x="3138" y="4926.5">ambiguous</text></g>
<g id="l-or-establish"><rect class="k" x="2962" y="4970" width="70" height="14"/><text class="s" x="2997" y="4977">or establish</text></g>
<g id="l-to-verify"><rect class="k" x="3058" y="4970" width="52" height="14"/><text class="s" x="3084" y="4977">to verify</text></g>
<g id="n-new-facts"><rect class="b" x="2996" y="5016" width="89" height="26"/><text class="m" x="3040.5" y="5029">(New) Facts</text></g>
<g id="l-justify"><rect class="k" x="2962" y="5072" width="67" height="15"/><text class="s" x="2995.5" y="5079.5">that justify</text></g>
<g id="l-or-change"><rect class="k" x="3055" y="5072" width="62" height="15"/><text class="s" x="3086" y="5079.5">or change</text></g>
<g id="n-beliefs4"><rect class="b" x="3013" y="5117" width="55" height="26"/><text class="m" x="3040.5" y="5130">Beliefs</text></g>
<g id="l-held-by"><rect class="k" x="3018" y="5173" width="46" height="14"/><text class="s" x="3041" y="5180">held by</text></g>
<g id="n-methodology4"><rect class="b" x="2799" y="5219" width="93" height="27"/><text class="m" x="2845.5" y="5232.5">Methodology</text></g>
<g id="n-people4"><rect class="b" x="2918" y="5219" width="55" height="27"/><text class="m" x="2945.5" y="5232.5">People</text></g>
<g id="n-institutions4"><rect class="b" x="2998" y="5219" width="85" height="27"/><text class="m" x="3040.5" y="5232.5">Institutions</text></g>
<g id="n-groups4"><rect class="b" x="3107" y="5219" width="59" height="27"/><text class="m" x="3136.5" y="5232.5">Groups</text></g>
<g id="n-practices4"><rect class="b" x="3192" y="5219" width="80" height="27"/><text class="m" x="3232" y="5232.5">"Practices"</text></g>
<g id="l-sensibly"><rect class="k" x="3084" y="5276" width="87" height="14"/><text class="s" x="3127.5" y="5283">sensibly using</text></g>
<g id="n-r-depth"><rect class="b wt" x="2799" y="5321" width="57" height="25"/><text class="m" x="2827.5" y="5333.5">DEPTH</text></g>
<g id="n-r-relevance"><rect class="b wt" x="2881" y="5321" width="87" height="25"/><text class="m" x="2924.5" y="5333.5">RELEVANCE</text></g>
<g id="n-r-precision"><rect class="b wt" x="2993" y="5321" width="85" height="25"/><text class="m" x="3035.5" y="5333.5">PRECISION</text></g>
<g id="n-r-logic"><rect class="b wt" x="3102" y="5321" width="55" height="25"/><text class="m" x="3129.5" y="5333.5">LOGIC</text></g>
<g id="n-r-accuracy"><rect class="b wt" x="3182" y="5321" width="83" height="25"/><text class="m" x="3223.5" y="5333.5">ACCURACY</text></g>
<g id="n-r-fairness"><rect class="b wt" x="3289" y="5321" width="77" height="25"/><text class="m" x="3327.5" y="5333.5">FAIRNESS</text></g>
<g id="n-r-clarity"><rect class="b wt" x="3391" y="5321" width="68" height="25"/><text class="m" x="3425" y="5333.5">CLARITY</text></g>
<g id="l-resolving"><rect class="k" x="3027" y="5369" width="202" height="31"/><text class="s" x="3128" y="5384.5"><tspan x="3128" dy="-7">actively resolving to uncover the</tspan><tspan x="3128" dy="14">logic behind the</tspan></text></g>
<g id="n-goal2"><rect class="b" x="2970" y="5425" width="61" height="26"/><text class="m" x="3000.5" y="5438">Goal(s)</text></g>
<g id="n-purpose2"><rect class="b" x="3054" y="5425" width="81" height="26"/><text class="m" x="3094.5" y="5438">Purpose(s)</text></g>
<g id="n-objectives2"><rect class="b" x="3160" y="5425" width="97" height="26"/><text class="m" x="3208.5" y="5438">Objectives(s)</text></g>
<g id="l-of-the"><rect class="k tn" x="3083" y="5482" width="36" height="14"/><text class="s" x="3101" y="5489">of the</text></g>
<g id="n-situation"><rect class="b" x="3068" y="5528" width="67" height="25"/><text class="m" x="3101.5" y="5540.5">situation</text></g>
<g id="l-produce"><rect class="k" x="3039" y="5582" width="126" height="14"/><text class="s" x="3102" y="5589">to produce a truthful</text></g>
<g id="n-answer"><rect class="b" x="3073" y="5627" width="58" height="25"/><text class="m" x="3102" y="5639.5">answer</text></g>
</g>

</g>
</svg>
